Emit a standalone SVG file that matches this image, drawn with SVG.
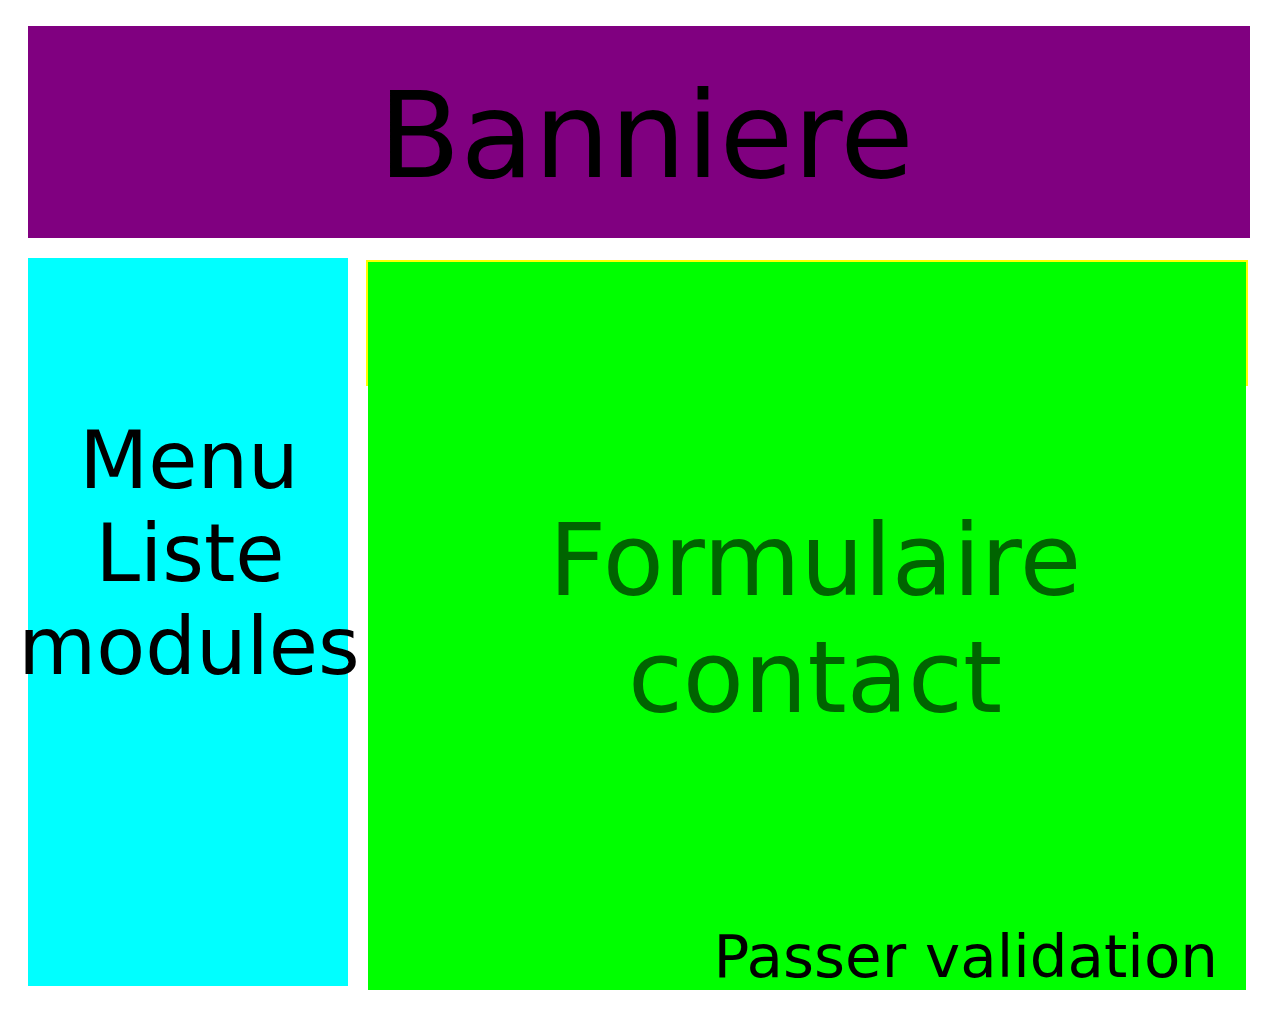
<svg xmlns="http://www.w3.org/2000/svg" width="1280" height="1024" viewBox="0 0 1280 1024">
<style>
text{font-family:"DejaVu Sans","Liberation Sans",sans-serif;text-anchor:middle}
</style>
<rect width="1280" height="1024" fill="#ffffff"/>
<g id="banniere">
<rect x="28" y="26" width="1222" height="212" fill="#800080"/>
<text x="646" y="177" font-size="120" fill="#000000">Banniere</text>
</g>
<g id="menu">
<rect x="28" y="258" width="320" height="728" fill="#00ffff"/>
<text x="189" y="488" font-size="80" fill="#000000">Menu</text>
<text x="190" y="581" font-size="80" fill="#000000">Liste</text>
<text x="189" y="674" font-size="80" fill="#000000">modules</text>
</g>
<g id="formulaire">
<rect x="367" y="261" width="880" height="124" fill="none" stroke="#ffff00" stroke-width="2"/>
<rect x="368" y="262" width="878" height="728" fill="#00ff00"/>
<text x="815" y="595" font-size="100" fill="#006400">Formulaire</text>
<text x="815" y="712" font-size="100" fill="#006400">contact</text>
<text x="1218" y="977" font-size="59.5" fill="#000000" style="text-anchor:end">Passer validation</text>
</g>
<g id="connectors"></g>
</svg>
